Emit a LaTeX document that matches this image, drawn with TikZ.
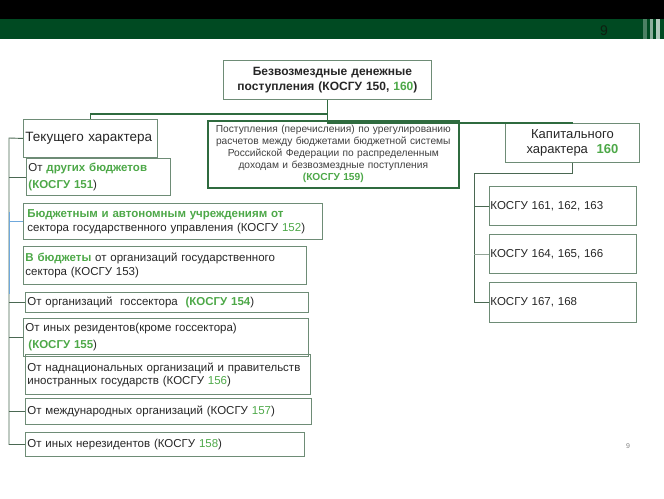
\documentclass[tikz,border=0pt]{standalone}
\usepackage{fontspec}
\setmainfont{Liberation Sans}
\usepackage{xcolor}
\usepackage{tikz}
\usetikzlibrary{positioning, calc}
\definecolor{bargreen}{HTML}{004A22}
\definecolor{boxline}{HTML}{6E8C76}
\definecolor{darkline}{HTML}{2F6B3F}
\definecolor{kgreen}{HTML}{4DA848}
\definecolor{treeline}{HTML}{4A6852}
\definecolor{treeblue}{HTML}{6FA8DC}
\definecolor{numdark}{HTML}{0E1F10}
\newcommand{\kg}[1]{\textcolor{kgreen}{\textbf{#1}}}
\newcommand{\kn}[1]{\textcolor{kgreen}{#1}}

\begin{document}
\begin{tikzpicture}[
    x=1pt, y=-1pt,
    box/.style  = {draw=boxline, line width=0.9pt, anchor=north west,
                   inner xsep=2pt, inner ysep=0pt, align=left,
                   text=black!85, font=\fontsize{11.5}{14}\selectfont},
    head/.style = {box, align=center, font=\bfseries\fontsize{12}{15}\selectfont},
    mid/.style  = {box, draw=darkline, line width=1.6pt, align=center,
                   text=black!75, font=\fontsize{10.2}{12}\selectfont},
    conn/.style = {draw=darkline, line width=1.2pt},
    tree/.style = {draw=treeline, line width=0.9pt},
  ]
  \useasboundingbox (0,0) rectangle (664,498);

  %% Header bar
  \fill[black] (0,0) rectangle (664,19);
  \fill[bargreen] (0,19) rectangle (664,39);
  \fill[bargreen!70!white] (643,19) rectangle (647,39);
  \fill[bargreen!45!white] (650,19) rectangle (653,39);
  \fill[bargreen!30!white] (656,19) rectangle (660,39);
  \node[text=numdark, font=\fontsize{14}{14}\selectfont] (pnum) at (604,31) {9};

  %% Top box
  \node[head, minimum width=208pt, minimum height=39pt,
        text width=204pt] (top) at (223,60)
        {\hspace*{10pt}Безвозмездные денежные\\поступления (КОСГУ 150, \kn{160})};

  %% Middle box
  \node[mid, minimum width=251pt, minimum height=67pt,
        text width=249pt, inner xsep=1pt] (k159) at (207,120)
        {Поступления (перечисления) по урегулированию\\
         расчетов между бюджетами бюджетной системы\\
         Российской Федерации по распределенным\\
         доходам и безвозмездные поступления\\
         \kg{(КОСГУ 159)}};

  %% Left column
  \node[box, minimum width=134pt, minimum height=38pt, text width=130pt,
        font=\fontsize{13.5}{16}\selectfont] (tek) at (23,119)
        {Текущего характера};
  \node[box, minimum width=144pt, minimum height=37pt, text width=140pt,
        font=\fontsize{11.5}{17}\selectfont] (b151) at (26,158)
        {От \kg{других бюджетов}\\\kg{(КОСГУ 151})};
  \node[box, minimum width=299pt, minimum height=36pt, text width=291pt,
        inner xsep=4pt] (b152) at (23,203)
        {\kg{Бюджетным и автономным учреждениям от}\\
         сектора государственного управления (КОСГУ \kn{152})};
  \node[box, minimum width=283pt, minimum height=38pt, text width=279pt] (b153) at (23,246)
        {\kg{В бюджеты} от организаций государственного\\
         сектора (КОСГУ 153)};
  \node[box, minimum width=283pt, minimum height=20pt, text width=279pt] (b154) at (25,292)
        {От организаций\ \ госсектора\ \ \kg{(КОСГУ 154})};
  \node[box, minimum width=285pt, minimum height=38pt, text width=281pt,
        font=\fontsize{11.5}{17}\selectfont] (b155) at (23,318)
        {От иных резидентов(кроме госсектора)\\
         \hspace*{3pt}\kg{(КОСГУ 155})};
  \node[box, minimum width=285pt, minimum height=40pt, text width=281pt,
        font=\fontsize{11.5}{13}\selectfont] (b156) at (25,354)
        {От наднациональных организаций и правительств\\
         иностранных государств (КОСГУ \kn{156})};
  \node[box, minimum width=286pt, minimum height=26pt, text width=282pt] (b157) at (25,398)
        {От международных организаций (КОСГУ \kn{157})};
  \node[box, minimum width=279pt, minimum height=24pt, text width=275pt] (b158) at (25,432)
        {От иных нерезидентов (КОСГУ \kn{158})};

  %% Right column
  \node[box, align=center, minimum width=134pt, minimum height=39pt,
        text width=130pt, font=\fontsize{13}{15}\selectfont] (cap) at (505,123)
        {Капитального\\характера\ \ \kg{160}};
  \node[box, inner xsep=1pt, minimum width=147pt, minimum height=39pt,
        text width=145pt] (k161) at (489,186) {КОСГУ 161, 162, 163};
  \node[box, inner xsep=1pt, minimum width=147pt, minimum height=39pt,
        text width=145pt] (k164) at (489,234) {КОСГУ 164, 165, 166};
  \node[box, inner xsep=1pt, minimum width=147pt, minimum height=40pt,
        text width=145pt] (k167) at (489,282) {КОСГУ 167, 168};

  %% Page number
  \node[text=black!50, font=\fontsize{7}{7}\selectfont] (pnum2) at (628,446) {9};

  %% Connectors from the top box
  \draw[conn] (top.south) -- ++(0,14) -| (tek.north);
  \draw[conn] (top.south) -- ++(0,23) -| (cap.north);

  %% Left tree
  \coordinate (ltrunk) at (9,138);
  \draw[tree] (tek.west) -- (ltrunk) -- (ltrunk |- b158.west) -- (b158.west);
  \foreach \b in {b151, b154, b155, b157}
    \draw[tree] (ltrunk |- \b.west) -- (\b.west);
  \draw[treeblue, line width=0.9pt] (ltrunk |- 0,212) -- (ltrunk |- 0,294);
  \draw[treeblue, line width=0.9pt] (ltrunk |- b152.west) -- (b152.west);

  %% Right tree
  \coordinate (rtrunk) at (474,173);
  \draw[tree] (cap.south) |- (rtrunk) |- (k161.west);
  \draw[tree] (rtrunk) |- (k167.west);
  \draw[tree, draw=treeline!60] (rtrunk |- k164.west) -- (k164.west);

\end{tikzpicture}
\end{document}
